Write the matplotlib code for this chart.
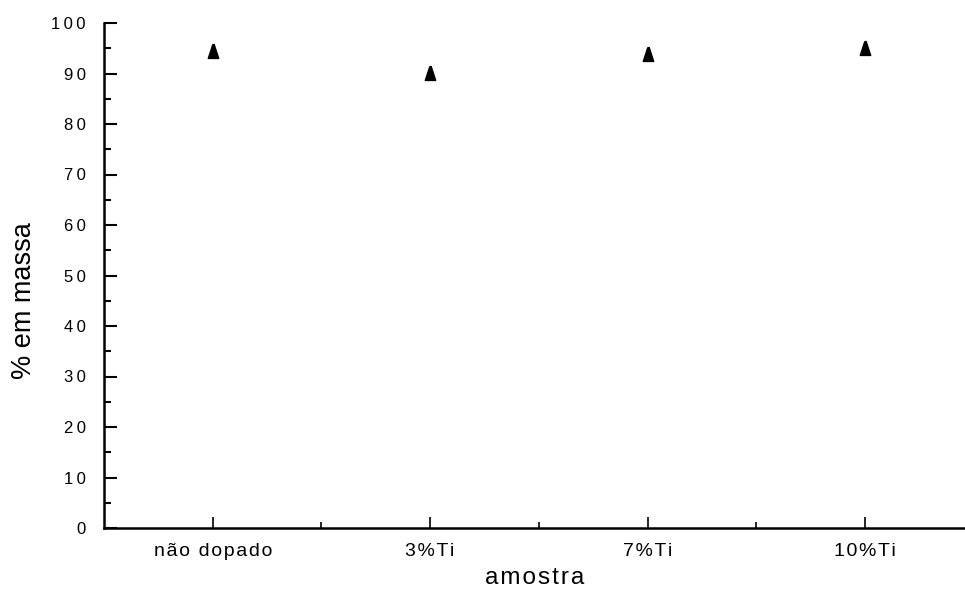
import matplotlib
matplotlib.use("Agg")
import matplotlib.pyplot as plt
from matplotlib.ticker import MultipleLocator, FixedLocator

plt.rcParams['font.family'] = ['Liberation Sans', 'DejaVu Sans']

# Sample composition (% by mass)
categories = ["não dopado", "3%Ti", "7%Ti", "10%Ti"]
mass_pct = [94.4, 90.1, 93.8, 95.0]
yticks = [0, 10, 20, 30, 40, 50, 60, 70, 80, 90, 100]

HAIR = "\u200a"
THIN = "\u2009"


def spaced(s, sep=HAIR):
    return sep.join(list(s))


fig = plt.figure(figsize=(9.65, 5.91), dpi=100)
ax = fig.add_axes([104 / 965, 63 / 591, 1 - 104 / 965, (528 - 23) / 591])

x = list(range(len(categories)))
tri = [(-0.1, 1), (0.1, 1), (0.75, -1), (-0.75, -1), (-0.1, 1)]
ax.plot(x, mass_pct, linestyle="none", marker=tri, markersize=10,
        color="black")

ax.set_xlim(-0.5, 3.46)
ax.set_ylim(0, 100)

for s in ("top", "right"):
    ax.spines[s].set_visible(False)
for s in ("left", "bottom"):
    ax.spines[s].set_linewidth(1.8)

ax.set_yticks(yticks)
ax.set_yticklabels([spaced(str(v), THIN) for v in yticks])
ax.yaxis.set_minor_locator(MultipleLocator(5))
ax.set_xticks(x)
ax.set_xticklabels([spaced(c) for c in categories])
ax.xaxis.set_minor_locator(FixedLocator([0.5, 1.5, 2.5]))

ax.tick_params(axis="y", which="major", direction="in", length=9,
               width=1.5, pad=13, labelsize=12)
ax.tick_params(axis="y", which="minor", direction="in", length=5, width=1.5)
ax.tick_params(axis="x", which="major", direction="in", length=8,
               width=1.2, pad=11, labelsize=14)
ax.tick_params(axis="x", which="minor", direction="in", length=4, width=1.2)

ax.set_xlabel(spaced("amostra"), fontsize=17.5, labelpad=5)
ax.set_ylabel("% em massa", fontsize=19.5)
ax.yaxis.set_label_coords(-0.0775, 0.45)

fig.savefig("out.png", dpi=100)
